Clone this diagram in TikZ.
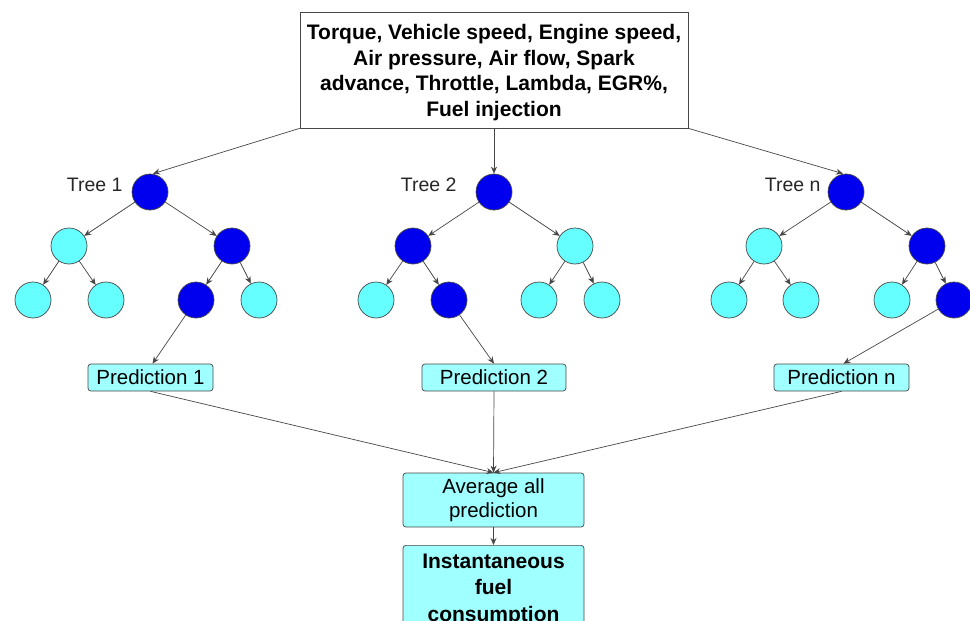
\documentclass[tikz,border=0pt]{standalone}
\usepackage{fontspec}
\setmainfont{Liberation Sans}
\usetikzlibrary{arrows.meta}
\definecolor{darkn}{RGB}{0,0,238}
\definecolor{lightn}{RGB}{102,255,255}
\definecolor{boxc}{RGB}{160,255,255}
\definecolor{edgec}{RGB}{70,70,70}
\begin{document}
\begin{tikzpicture}[x=1pt,y=-1pt,
  every node/.style={font=\fontsize{20.5}{24}\selectfont},
  dk/.style={circle,minimum size=36pt,inner sep=0pt,fill=darkn,draw=edgec,line width=0.7pt},
  lt/.style={circle,minimum size=36pt,inner sep=0pt,fill=lightn,draw=edgec,line width=0.7pt},
  pbox/.style={rectangle,rounded corners=3pt,fill=boxc,draw=edgec,line width=0.7pt,minimum height=27pt,inner sep=0pt},
  arr/.style={draw=edgec,line width=0.7pt,-{Stealth[length=7pt,width=6pt]}},
  lbl/.style={font=\fontsize{19.5}{24}\selectfont,text=black!85}
]
\useasboundingbox (0,0) rectangle (970,621);
% top box
\node[draw=edgec,line width=0.7pt,minimum width=388pt,minimum height=116pt,inner sep=0pt] (top) at (494,70) {};
\node[align=center,font=\bfseries\fontsize{21}{25.5}\selectfont] (toptext) at (494,72.5)
  {Torque, Vehicle speed, Engine speed,\\Air pressure, Air flow, Spark\\advance, Throttle, Lambda, EGR\%,\\Fuel injection};
% Tree 1
\node[dk] (r1) at (150,192) {};
\node[lt] (a1) at (69,246) {};
\node[dk] (b1) at (232,246) {};
\node[lt] (c1) at (33,300) {};
\node[lt] (d1) at (106,300) {};
\node[dk] (e1) at (196,300) {};
\node[lt] (f1) at (259,300) {};
\node[lbl,anchor=east] (t1) at (126,185) {Tree 1};
% Tree 2
\node[dk] (r2) at (494,192) {};
\node[dk] (a2) at (413,246) {};
\node[lt] (b2) at (575,246) {};
\node[lt] (c2) at (376,300) {};
\node[dk] (d2) at (449,300) {};
\node[lt] (e2) at (539,300) {};
\node[lt] (f2) at (602,300) {};
\node[lbl,anchor=east] (t2) at (460,185) {Tree 2};
% Tree n
\node[dk] (r3) at (846,192) {};
\node[lt] (a3) at (764,246) {};
\node[dk] (b3) at (927,246) {};
\node[lt] (c3) at (729,300) {};
\node[lt] (d3) at (801,300) {};
\node[lt] (e3) at (892,300) {};
\node[dk] (f3) at (954,300) {};
\node[lbl,anchor=east] (t3) at (824,185) {Tree n};
% predictions
\node[pbox,minimum width=125pt] (p1) at (150.5,377.5) {Prediction 1};
\node[pbox,minimum width=144pt] (p2) at (494,377.5) {Prediction 2};
\node[pbox,minimum width=135pt] (p3) at (841.5,377.5) {Prediction n};
% average and result
\node[pbox,minimum width=181pt,minimum height=54pt,align=center,
  font=\fontsize{20.5}{24}\selectfont] (avg) at (493.5,500) {Average all\\prediction};
\node[pbox,minimum width=181pt,minimum height=89pt,align=center,anchor=north,
  font=\bfseries\fontsize{21}{26.5}\selectfont] (res) at (493.5,545) {Instantaneous\\fuel\\consumption};
% connectors from top
\draw[arr] (top.south west) -- ([xshift=3pt]r1.north);
\draw[arr] (top.south) -- (r2);
\draw[arr] (top.south east) -- ([xshift=-3pt]r3.north);
% tree edges
\foreach \i in {1,2,3}{
  \draw[arr] (r\i) -- (a\i);
  \draw[arr] (r\i) -- (b\i);
  \draw[arr] (a\i) -- (c\i);
  \draw[arr] (a\i) -- (d\i);
  \draw[arr] (b\i) -- (e\i);
  \draw[arr] (b\i) -- (f\i);
}
\draw[arr] (e1) -- ([xshift=2pt]p1.north);
\draw[arr] (d2) -- (p2.north);
\draw[arr] (f3) -- ([xshift=2pt]p3.north);
\draw[arr] (p1.south) -- (avg.north);
\draw[arr] (p2.south) -- (avg.north);
\draw[arr] (p3.south) -- (avg.north);
\draw[arr] (avg) -- (res);
\end{tikzpicture}
\end{document}
